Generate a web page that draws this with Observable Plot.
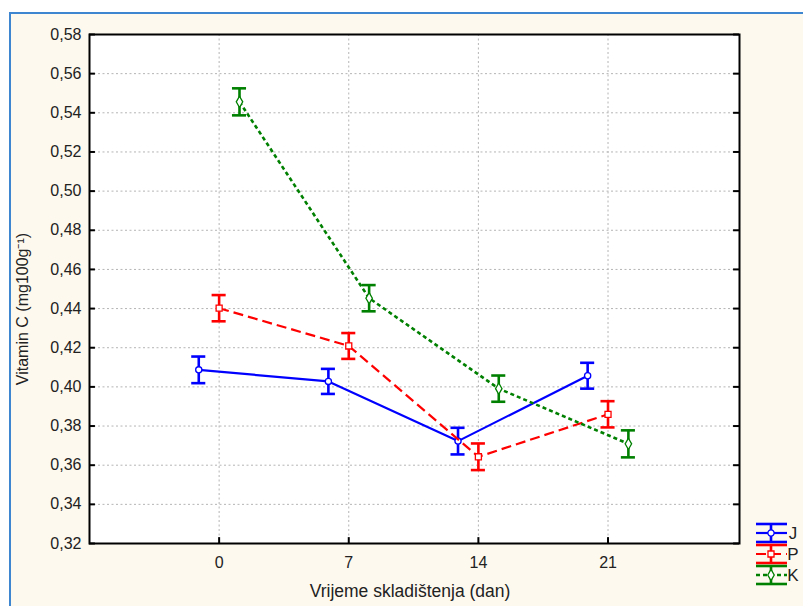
<!DOCTYPE html>
<html>
<head>
<meta charset="utf-8">
<script src="https://cdn.jsdelivr.net/npm/d3@7"></script>
<script src="https://cdn.jsdelivr.net/npm/@observablehq/plot@0.6"></script>
<style>
  html, body { margin: 0; padding: 0; background: #ffffff; width: 803px; height: 606px; overflow: hidden; }
  #bg { position: absolute; left: 9px; top: 12px; right: 0; bottom: 0; background: #fdf9ee;
        border-left: 2px solid #3f86d0; border-top: 2px solid #3f86d0; }
  #chart { position: absolute; left: 0; top: 0; }
</style>
</head>
<body>
<div id="bg"></div>
<div id="chart"></div>
<script>
// ---- data ----
const days = [0, 7, 14, 21];
const seriesNames = ["J", "P", "K"];
const valuesJ = [0.4087, 0.4028, 0.3723, 0.4057];
const valuesP = [0.4402, 0.4209, 0.3643, 0.3860];
const valuesK = [0.5456, 0.4453, 0.3991, 0.3709];
const errJ = [0.0068, 0.0064, 0.0068, 0.0066];
const errP = [0.0067, 0.0066, 0.0068, 0.0067];
const errK = [0.0069, 0.0067, 0.0067, 0.0069];
const yTicks = [0.32, 0.34, 0.36, 0.38, 0.40, 0.42, 0.44, 0.46, 0.48, 0.50, 0.52, 0.54, 0.56, 0.58];

// ---- styling ----
const dodge = {J: -1.1, P: 0, K: 1.1};
const colors = {J: "#0000ff", P: "#ff0000", K: "#008000"};
const dashes = {J: null, P: "10,5", K: "4,3"};
const widths = {J: 2.2, P: 2.2, K: 2.6};
const symbols = {J: "circle", P: "square", K: "diamond"};
const sizes = {J: 3.1, P: 3.4, K: 3.4};

const allValues = {J: valuesJ, P: valuesP, K: valuesK};
const allErr = {J: errJ, P: errP, K: errK};
const rows = seriesNames.flatMap(s => days.map((d, i) => ({
  series: s, day: d, x: d + dodge[s], y: allValues[s][i], e: allErr[s][i]
})));

const xDomain = [-7, 28.1];
const yDomain = [0.32, 0.58];
const fmt = v => d3.format(".2f")(v).replace(".", ",");
const capHalf = 0.38;      // days
const tickLenX = 0.32;     // days
const tickLenY = 0.003;    // y units
const font = "'Liberation Sans', Arial, sans-serif";

const marks = [
  Plot.frame({fill: "white", stroke: null}),
  Plot.gridY(yTicks, {stroke: "#b4b4b4", strokeOpacity: 1, strokeDasharray: "2,2.5"}),
  Plot.gridX(days, {stroke: "#b4b4b4", strokeOpacity: 1, strokeDasharray: "2,2.5"}),
  Plot.axisY({ticks: yTicks, tickSize: 0, tickPadding: 8, tickFormat: fmt, label: null, fill: "#222"}),
  Plot.axisX({ticks: days, tickSize: 0, tickPadding: 13, label: null, fill: "#222"}),
  // inward tick marks
  Plot.ruleY(yTicks, {y: d => d, x1: xDomain[0], x2: xDomain[0] + tickLenX, stroke: "black", strokeWidth: 2}),
  Plot.ruleY(yTicks, {y: d => d, x1: xDomain[1] - tickLenX, x2: xDomain[1], stroke: "black", strokeWidth: 2}),
  Plot.ruleX(days, {x: d => d, y1: yDomain[0], y2: yDomain[0] + tickLenY, stroke: "black", strokeWidth: 2}),
];

for (const s of seriesNames) {
  const data = rows.filter(r => r.series === s);
  marks.push(
    Plot.line(data, {x: "x", y: "y", stroke: colors[s], strokeWidth: widths[s], strokeDasharray: dashes[s], strokeLinecap: "butt"}),
    Plot.ruleX(data, {x: "x", y1: d => d.y - d.e, y2: d => d.y + d.e, stroke: colors[s], strokeWidth: 2.6}),
    Plot.ruleY(data, {y: d => d.y - d.e, x1: d => d.x - capHalf, x2: d => d.x + capHalf, stroke: colors[s], strokeWidth: 2.6}),
    Plot.ruleY(data, {y: d => d.y + d.e, x1: d => d.x - capHalf, x2: d => d.x + capHalf, stroke: colors[s], strokeWidth: 2.6}),
    Plot.dot(data, {x: "x", y: "y", symbol: symbols[s], r: sizes[s], fill: "white", stroke: colors[s], strokeWidth: 1.3})
  );
}
marks.push(Plot.frame({stroke: "black", strokeWidth: 2}));

const chart = Plot.plot({
  width: 803,
  height: 606,
  marginLeft: 89,
  marginRight: 64,
  marginTop: 34,
  marginBottom: 63,
  style: {background: "transparent", fontFamily: font, fontSize: "16px", color: "#222"},
  x: {domain: xDomain},
  y: {domain: yDomain},
  marks
});
document.getElementById("chart").appendChild(chart);

// ---- axis titles & legend ----
const svg = d3.select(chart);
svg.append("text")
  .attr("x", 410).attr("y", 597)
  .attr("text-anchor", "middle")
  .attr("font-size", 17.5).attr("fill", "#222")
  .attr("font-family", font)
  .text("Vrijeme skladištenja (dan)");
svg.append("text")
  .attr("transform", "translate(28,309) rotate(-90)")
  .attr("text-anchor", "middle")
  .attr("font-size", 16).attr("fill", "#222")
  .attr("font-family", font)
  .text("Vitamin C (mg100g⁻¹)");

const leg = svg.append("g");
seriesNames.forEach((s, i) => {
  const cy = 533 + i * 21;
  const g = leg.append("g").attr("stroke", colors[s]).attr("stroke-width", 2.6).attr("fill", "none");
  g.append("line").attr("x1", 756).attr("x2", 787).attr("y1", cy - 9).attr("y2", cy - 9);
  g.append("line").attr("x1", 756).attr("x2", 787).attr("y1", cy + 9).attr("y2", cy + 9);
  g.append("line").attr("x1", 771).attr("x2", 771).attr("y1", cy - 9).attr("y2", cy + 9);
  g.append("line").attr("x1", 756).attr("x2", 787).attr("y1", cy).attr("y2", cy)
    .attr("stroke-width", widths[s]).attr("stroke-dasharray", dashes[s]);
  g.append("path")
    .attr("transform", `translate(771,${cy})`)
    .attr("d", d3.symbol(s === "J" ? d3.symbolCircle : s === "P" ? d3.symbolSquare : d3.symbolDiamond, Math.PI * sizes[s] * sizes[s])())
    .attr("fill", "white").attr("stroke-width", 1.3);
  leg.append("text")
    .attr("x", 793).attr("y", cy).attr("dy", "0.35em")
    .attr("font-size", 17).attr("fill", "#222")
    .attr("font-family", font)
    .text(s);
});
</script>
</body>
</html>
